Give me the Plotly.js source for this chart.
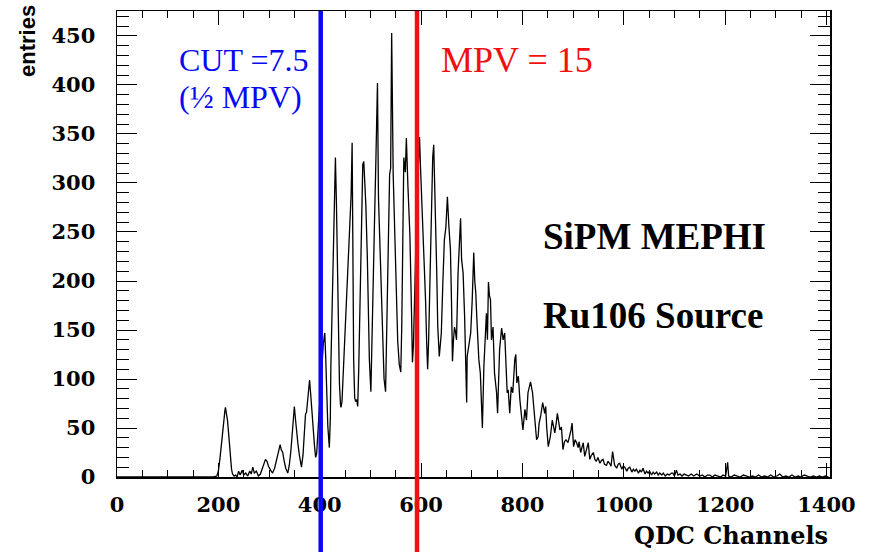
<!DOCTYPE html>
<html>
<head>
<meta charset="utf-8">
<script src="https://cdn.plot.ly/plotly-3.0.1.min.js"></script>
<style>html,body{margin:0;padding:0;background:#fff;}#chart{width:878px;height:552px;}</style>
</head>
<body>
<div id="chart"></div>
<script>
// QDC channel positions of the histogram outline vertices
const qdcChannels = [0,190,197,200,203,206,209,211,213,214,216,218,220,222,224,226,228,231,234,237,240,243,247,250,254,258,262,265,268,271,275,279,283,287,290,293,296,299,303,307,311,315,318,320,322,324,327,330,333,337,340,343,346,348,350,352,354,357,360,364,367,369,372,374,377,380,382,384,386,388,390,392,394,397,400,404,407,410,412,414,416,419,421,422,424,427,429,431,433,435,437,439,441,442,444,446,448,452,455,459,462,464,465,466,467,469,471,473,475,477,479,482,485,487,489,491,494,496,498,501,503,505,508,511,514,516,518,521,525,527,530,532,535,538,540,542,545,548,551,554,557,560,562,564,566,569,571,574,576,578,581,583,585,587,589,591,593,595,597,599,602,606,609,611,613,615,617,620,623,625,627,630,631,633,636,638,640,643,646,649,652,655,658,660,661,662,664,666,668,670,673,675,678,680,683,686,688,690,691,695,698,701,704,706,708,710,714,717,719,721,724,727,729,731,732,733,735,737,739,742,745,749,751,753,755,759,762,765,767,770,772,775,778,781,785,787,789,792,795,798,801,805,808,811,814,816,820,824,828,831,833,836,840,844,846,848,851,855,859,862,864,867,869,872,874,877,880,883,886,890,893,896,898,901,904,907,910,912,915,918,920,923,926,930,933,936,940,943,946,949,953,956,959,962,966,969,972,975,978,980,982,986,989,992,996,999,1002,1006,1009,1012,1016,1019,1022,1025,1029,1032,1035,1038,1042,1045,1048,1051,1055,1058,1061,1065,1068,1071,1075,1078,1082,1086,1090,1094,1097,1100,1104,1107,1111,1115,1119,1124,1128,1133,1138,1144,1150,1155,1160,1165,1170,1175,1180,1186,1191,1196,1201,1205,1207,1212,1218,1224,1230,1236,1242,1248,1254,1260,1266,1272,1278,1284,1290,1296,1302,1308,1314,1320,1326,1332,1338,1344,1350,1356,1362,1368,1374,1380,1386,1392,1398,1404];
// entries at those channels
const entries = [0,0,1,6,18,34,52,63,68,71,66,58,46,30,16,8,3,1,2,0,6,2,7,2,4,1,6,3,10,4,6,1,3,9,14,18,16,11,7,4,9,18,27,31,33,28,25,16,9,4,12,26,44,58,72,60,48,34,22,10,22,40,64,66,82,99,86,70,58,42,30,20,24,50,80,110,135,147,120,80,52,30,60,112,165,240,290,326,280,200,140,95,74,71,77,100,120,162,205,250,288,341,260,196,120,81,77,79,72,110,162,224,319,322,300,278,224,155,120,87,128,180,257,326,402,285,250,206,138,100,87,145,224,309,315,453,309,257,189,138,115,107,155,257,326,311,346,298,275,247,173,117,135,170,220,270,300,330,347,315,278,224,179,138,110,140,183,270,326,339,296,255,208,153,123,135,147,198,242,255,286,255,232,181,147,118,140,153,148,140,208,232,264,222,208,163,120,76,123,137,147,181,229,200,188,163,120,106,79,50,113,140,167,140,194,199,185,181,140,153,106,86,65,106,130,152,140,147,113,86,89,65,92,86,120,125,96,103,79,62,48,69,58,86,92,97,86,58,38,41,55,62,76,65,72,50,31,41,58,50,45,56,65,55,48,51,28,36,38,35,41,48,55,31,38,35,30,36,25,30,35,21,28,35,18,22,25,18,16,20,14,17,18,13,12,16,14,11,26,15,12,9,13,14,8,11,10,6,9,10,5,8,6,8,4,7,5,9,3,6,4,6,2,5,3,5,2,4,2,4,1,3,2,4,4,1,7,2,3,1,3,2,1,3,1,3,1,2,0,2,2,0,2,1,0,2,1,15,1,0,2,1,0,2,1,0,1,0,2,0,1,0,2,0,1,3,0,1,0,2,0,1,0,2,1,0,1,0,1,0,1,0];
const xTickVals = [0,200,400,600,800,1000,1200,1400];
const yTickVals = [0,50,100,150,200,250,300,350,400,450];
const cutChannel = 402;   // blue line
const mpvChannel = 592;   // red line

const trace = {
  type: 'scatter', mode: 'lines',
  x: qdcChannels, y: entries,
  line: {color: '#000', width: 1.3},
  hoverinfo: 'skip', showlegend: false
};

const tickFont = {family: 'DejaVu Serif', size: 21, color: '#000', weight: 'bold'};
const layout = {
  width: 878, height: 552,
  margin: {l: 117, r: 48, t: 11, b: 75, pad: 0},
  paper_bgcolor: '#fff', plot_bgcolor: '#fff',
  showlegend: false,
  xaxis: {
    range: [0, 1407], tickvals: xTickVals, ticktext: xTickVals.map(String),
    ticks: 'inside', ticklen: 14, tickwidth: 1, tickcolor: '#000',
    minor: {dtick: 50, ticks: 'inside', ticklen: 7, tickcolor: '#000', tickwidth: 1, showgrid: false},
    showline: true, linecolor: '#000', linewidth: 1.5, mirror: 'allticks',
    showgrid: false, zeroline: false, tickfont: tickFont, ticklabelstandoff: 8
  },
  yaxis: {
    range: [0, 475.5], tickvals: yTickVals, ticktext: yTickVals.map(String),
    ticks: 'inside', ticklen: 20, tickwidth: 1, tickcolor: '#000',
    minor: {dtick: 10, ticks: 'inside', ticklen: 12, tickcolor: '#000', tickwidth: 1, showgrid: false},
    showline: true, linecolor: '#000', linewidth: 1.5, mirror: 'allticks',
    showgrid: false, zeroline: false, tickfont: tickFont, ticklabelstandoff: 16
  },
  shapes: [
    {type: 'line', xref: 'x', yref: 'paper', x0: cutChannel, x1: cutChannel, y0: -0.2, y1: 1,
     line: {color: '#0a0af0', width: 4.5}},
    {type: 'line', xref: 'x', yref: 'paper', x0: mpvChannel, x1: mpvChannel, y0: -0.2, y1: 1,
     line: {color: '#f01010', width: 4.5}}
  ],
  annotations: [
    {text: 'CUT =7.5', xref: 'paper', yref: 'paper', x: 0.0842, y: 0.8938, xanchor: 'left', yanchor: 'middle',
     showarrow: false, font: {family: 'Liberation Serif', size: 32, color: '#0a0af0'}},
    {text: '(½ MPV)', xref: 'paper', yref: 'paper', x: 0.0842, y: 0.8165, xanchor: 'left', yanchor: 'middle',
     showarrow: false, font: {family: 'Liberation Serif', size: 32, color: '#0a0af0'}},
    {text: 'MPV = 15', xref: 'paper', yref: 'paper', x: 0.4516, y: 0.8948, xanchor: 'left', yanchor: 'middle',
     showarrow: false, font: {family: 'Liberation Serif', size: 36, color: '#f01010'}},
    {text: 'SiPM MEPHI', xref: 'paper', yref: 'paper', x: 0.5947, y: 0.517, xanchor: 'left', yanchor: 'middle',
     showarrow: false, font: {family: 'Liberation Serif', size: 37, color: '#000', weight: 'bold'}},
    {text: 'Ru106 Source', xref: 'paper', yref: 'paper', x: 0.5947, y: 0.3466, xanchor: 'left', yanchor: 'middle',
     showarrow: false, font: {family: 'Liberation Serif', size: 37, color: '#000', weight: 'bold'}},
    {text: 'entries', xref: 'paper', yref: 'paper', x: -0.1262, y: 0.9356, xanchor: 'center', yanchor: 'middle',
     textangle: -90, showarrow: false, font: {family: 'Liberation Sans', size: 22, color: '#000', weight: 'bold'}},
    {text: 'QDC Channels', xref: 'paper', yref: 'paper', x: 1.0, y: -0.126, xanchor: 'right', yanchor: 'middle',
     showarrow: false, font: {family: 'DejaVu Serif', size: 24, color: '#000', weight: 'bold'}}
  ]
};

Plotly.newPlot('chart', [trace], layout, {displayModeBar: false, staticPlot: true});
</script>
</body>
</html>
